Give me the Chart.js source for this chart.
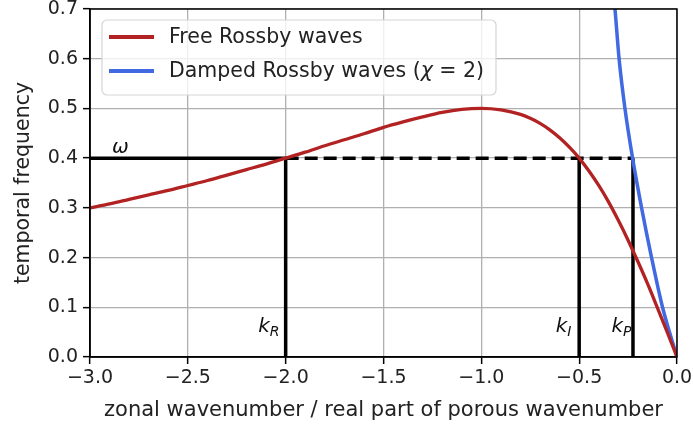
<!DOCTYPE html>
<html>
<head>
<meta charset="utf-8">
<script src="https://cdn.jsdelivr.net/npm/chart.js@4"></script>
<style>
  body { margin: 0; background: #fff; }
  canvas { display: block; }
</style>
</head>
<body>
<canvas id="c" width="693" height="428"></canvas>
<script>
// free Rossby waves
var freeK = [-3.0, -2.9, -2.8, -2.7, -2.6, -2.5, -2.4, -2.3, -2.2, -2.1, -2.0, -1.9, -1.8, -1.7, -1.6, -1.5, -1.4, -1.3, -1.2, -1.1, -1.0,
             -0.9, -0.8, -0.75, -0.7, -0.65, -0.6, -0.55, -0.5, -0.45, -0.4, -0.35, -0.3, -0.25, -0.2, -0.15, -0.1, -0.05, 0.0];
var freeW = [0.300, 0.308, 0.317, 0.326, 0.335, 0.345, 0.355, 0.366, 0.377, 0.388, 0.400, 0.412, 0.425, 0.437, 0.449, 0.462, 0.473, 0.483, 0.492, 0.498, 0.500,
             0.497, 0.488, 0.480, 0.470, 0.457, 0.441, 0.422, 0.400, 0.374, 0.345, 0.312, 0.275, 0.235, 0.192, 0.147, 0.099, 0.050, 0.0];
// damped Rossby waves (chi = 2)
var dampK = [-0.322, -0.317, -0.296, -0.266, -0.227, -0.181, -0.130, -0.074, 0.0];
var dampW = [0.72, 0.70, 0.60, 0.50, 0.40, 0.30, 0.20, 0.10, 0.0];

var omega = 0.4;
var kR = -2.0, kI = -0.5, kP = -0.225;
var xTicks = [-3.0, -2.5, -2.0, -1.5, -1.0, -0.5, 0.0];

var fontName = "'DejaVu Sans', sans-serif";

function pts(xs, ys) {
  return xs.map(function (x, i) { return { x: x, y: ys[i] }; });
}

function blackLine(data, dash) {
  return {
    label: '', data: data, borderColor: '#000', borderWidth: 3.5,
    borderDash: dash || [], pointRadius: 0, order: 5
  };
}

var frame = {
  id: 'frame',
  afterDatasetsDraw: function (chart) {
    var a = chart.chartArea, ctx = chart.ctx;
    ctx.save();
    ctx.strokeStyle = '#000';
    ctx.lineWidth = 1.5;
    ctx.strokeRect(a.left, a.top, a.right - a.left, a.bottom - a.top);
    ctx.restore();
  }
};

var notes = {
  id: 'notes',
  afterDraw: function (chart) {
    var ctx = chart.ctx, xs = chart.scales.x, ys = chart.scales.y;
    ctx.save();
    ctx.fillStyle = '#111';
    ctx.textBaseline = 'alphabetic';
    ctx.textAlign = 'left';

    ctx.font = 'italic 20px ' + fontName;
    ctx.fillText('ω', 112, 153);

    function kLabel(x, sub) {
      ctx.font = 'italic 20px ' + fontName;
      ctx.fillText('k', x, 332);
      var w = ctx.measureText('k').width;
      ctx.font = 'italic 14px ' + fontName;
      ctx.fillText(sub, x + w, 336);
    }
    kLabel(xs.getPixelForValue(kR - 0.14), 'R');
    kLabel(xs.getPixelForValue(kI - 0.12), 'I');
    kLabel(xs.getPixelForValue(kP - 0.11), 'P');

    // legend
    var bx = 102, by = 20, bw = 394, bh = 75, r = 5;
    ctx.beginPath();
    ctx.moveTo(bx + r, by);
    ctx.arcTo(bx + bw, by, bx + bw, by + bh, r);
    ctx.arcTo(bx + bw, by + bh, bx, by + bh, r);
    ctx.arcTo(bx, by + bh, bx, by, r);
    ctx.arcTo(bx, by, bx + bw, by, r);
    ctx.closePath();
    ctx.fillStyle = 'rgba(255,255,255,0.8)';
    ctx.fill();
    ctx.strokeStyle = '#d5d5d5';
    ctx.lineWidth = 1.2;
    ctx.stroke();

    var items = chart.data.datasets.slice(0, 2);
    items.forEach(function (d, i) {
      var y = 37 + i * 34;
      ctx.strokeStyle = d.borderColor;
      ctx.lineWidth = 4;
      ctx.beginPath();
      ctx.moveTo(109, y);
      ctx.lineTo(154, y);
      ctx.stroke();
      ctx.fillStyle = '#222';
      ctx.textBaseline = 'middle';
      var x = 169;
      d.label.split('|').forEach(function (part, j) {
        ctx.font = (j === 1 ? 'italic ' : '') + '20.5px ' + fontName;
        ctx.fillText(part, x, y + 1);
        x += ctx.measureText(part).width;
      });
    });
    ctx.restore();
  }
};

function fmt(v) {
  return Number(v).toFixed(1).replace('-', '\u2212');
}

function noPad(s) {
  s.paddingTop = 0; s.paddingBottom = 0; s.paddingLeft = 0; s.paddingRight = 0;
}

new Chart(document.getElementById('c'), {
  type: 'line',
  data: {
    datasets: [
      { label: 'Free Rossby waves', data: pts(freeK, freeW), borderColor: '#b22222', borderWidth: 3.3, pointRadius: 0,
        cubicInterpolationMode: 'monotone', order: 1 },
      { label: 'Damped Rossby waves (|χ| = 2)', data: pts(dampK, dampW), borderColor: '#4169e1', borderWidth: 3.5, pointRadius: 0,
        cubicInterpolationMode: 'monotone', order: 2 },
      blackLine([{ x: -3.0, y: omega }, { x: kR, y: omega }]),
      blackLine([{ x: kR, y: omega }, { x: kP, y: omega }], [13, 6]),
      blackLine([{ x: kR, y: 0 }, { x: kR, y: omega }]),
      blackLine([{ x: kI, y: 0 }, { x: kI, y: omega }]),
      blackLine([{ x: kP, y: 0 }, { x: kP, y: omega }])
    ]
  },
  options: {
    responsive: false,
    animation: false,
    parsing: false,
    layout: { padding: { top: 9, right: 16, left: 0, bottom: 0 } },
    plugins: { legend: { display: false }, tooltip: { enabled: false } },
    scales: {
      x: {
        type: 'linear', min: -3, max: 0,
        afterFit: function (s) { s.height = 71; noPad(s); },
        afterBuildTicks: function (s) { s.ticks = xTicks.map(function (v) { return { value: v }; }); },
        ticks: { color: '#222', font: { family: fontName, size: 19 }, padding: 3, callback: fmt, maxRotation: 0 },
        grid: { color: '#b0b0b0', lineWidth: 1.3, tickColor: '#000', tickLength: 7, tickWidth: 1.5 },
        border: { color: '#000', width: 1.5 },
        title: { display: true, text: 'zonal wavenumber / real part of porous wavenumber', color: '#222',
                 font: { family: fontName, size: 21 }, padding: { top: 0, bottom: 5 } }
      },
      y: {
        min: 0, max: 0.7,
        afterFit: function (s) { s.width = 90; noPad(s); },
        ticks: { stepSize: 0.1, color: '#222', font: { family: fontName, size: 19 }, padding: 5, callback: fmt },
        grid: { color: '#b0b0b0', lineWidth: 1.3, tickColor: '#000', tickLength: 7, tickWidth: 1.5 },
        border: { color: '#000', width: 1.5 },
        title: { display: true, text: 'temporal frequency', color: '#222',
                 font: { family: fontName, size: 20.5 }, padding: { top: 11, bottom: 0 } }
      }
    }
  },
  plugins: [frame, notes]
});
</script>
</body>
</html>
